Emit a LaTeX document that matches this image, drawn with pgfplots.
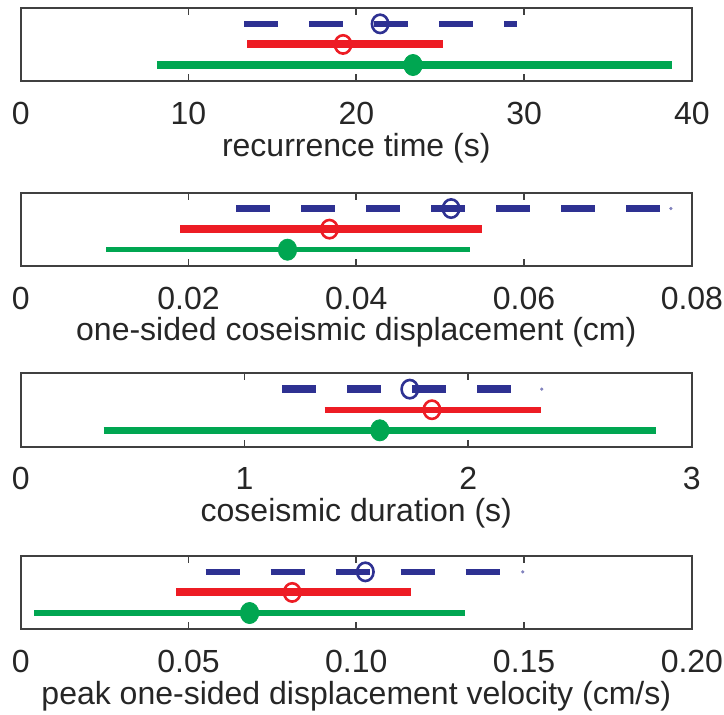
\documentclass[border=0pt]{standalone}
\usepackage{fontspec}
\setmainfont{Liberation Sans}
\usepackage{pgfplots}
\pgfplotsset{compat=1.18}
\definecolor{bluec}{RGB}{46,49,146}
\definecolor{redc}{RGB}{237,28,36}
\definecolor{greenc}{RGB}{0,166,81}
\definecolor{boxc}{RGB}{64,64,64}
\pgfplotsset{
  panel/.style={
    scale only axis, width=335.6pt, height=36.75pt, anchor=north west,
    ymin=0.2, ymax=3.77, ytick=\empty, tick align=inside, xtick pos=both,
    major tick length=3.5pt, clip=false, scaled x ticks=false,
    axis line style={draw=boxc, line width=1pt},
    every tick/.style={draw=boxc, line width=0.8pt},
    /pgf/number format/assume math mode=true,
    xticklabel style={font=\fontsize{16}{19}\selectfont, anchor=center, yshift=-16pt, text=black!85},
    xlabel style={font=\fontsize{16}{19}\selectfont, at={(axis description cs:0.5,0)}, anchor=center, yshift=-33.25pt, text=black!85},
  },
  bl/.style={color=bluec, line width=#1, dash pattern=on 17pt off 15.5pt},
  rl/.style={color=redc, line width=#1},
  gl/.style={color=greenc, line width=#1},
  bm/.style={only marks, mark=o, color=bluec, mark size=4.1pt, mark options={solid, line width=1.3pt, yscale=1.12}},
  rm/.style={only marks, mark=o, color=redc, mark size=4.1pt, mark options={solid, line width=1.3pt, yscale=1.12}},
  gm/.style={only marks, mark=*, color=greenc, mark size=4.6pt, mark options={yscale=1.15}},
  bd/.style={only marks, mark=*, color=bluec!60, mark size=0.6pt},
}
\begin{document}
\begin{tikzpicture}
\useasboundingbox (-10.35pt,4pt) rectangle (351.65pt,-353.5pt);
% panel 1
\begin{axis}[panel, at={(0,0)}, xmin=0, xmax=40, xtick={0,10,20,30,40}, xticklabels={0,10,20,30,40}, xlabel={recurrence time (s)}]
\addplot[bl=3.2pt] coordinates {(13.31,3) (29.57,3)};
\addplot[bm] coordinates {(21.42,3)};
\addplot[rl=4pt] coordinates {(13.50,2) (25.15,2)};
\addplot[rm] coordinates {(19.21,2)};
\addplot[gl=4pt] coordinates {(8.12,1) (38.81,1)};
\addplot[gm] coordinates {(23.38,1)};
\end{axis}
% panel 2
\begin{axis}[panel, at={(0,-92.35pt)}, xmin=0, xmax=0.08, xtick={0,0.02,0.04,0.06,0.08}, xticklabels={0,0.02,0.04,0.06,0.08}, xlabel={one-sided coseismic displacement (cm)}]
\addplot[bl=3.6pt] coordinates {(0.0257,3) (0.0775,3)};
\addplot[bd] coordinates {(0.0775,3)};
\addplot[bm] coordinates {(0.0513,3)};
\addplot[rl=3.8pt] coordinates {(0.0190,2) (0.0550,2)};
\addplot[rm] coordinates {(0.0368,2)};
\addplot[gl=2.7pt] coordinates {(0.0102,1) (0.0535,1)};
\addplot[gm] coordinates {(0.0318,1)};
\end{axis}
% panel 3
\begin{axis}[panel, at={(0,-182.65pt)}, xmin=0, xmax=3, xtick={0,1,2,3}, xticklabels={0,1,2,3}, xlabel={coseismic duration (s)}]
\addplot[bl=4pt] coordinates {(1.170,3) (2.329,3)};
\addplot[bd] coordinates {(2.329,3)};
\addplot[bm] coordinates {(1.739,3)};
\addplot[rl=2.8pt] coordinates {(1.358,2) (2.325,2)};
\addplot[rm] coordinates {(1.838,2)};
\addplot[gl=3.6pt] coordinates {(0.371,1) (2.839,1)};
\addplot[gm] coordinates {(1.605,1)};
\end{axis}
% panel 4
\begin{axis}[panel, at={(0,-274pt)}, xmin=0, xmax=0.2, xtick={0,0.05,0.10,0.15,0.20}, xticklabels={0,0.05,0.10,0.15,0.20}, xlabel={peak one-sided displacement velocity (cm/s)}]
\addplot[bl=3pt] coordinates {(0.0551,3) (0.1496,3)};
\addplot[bd] coordinates {(0.1496,3)};
\addplot[bm] coordinates {(0.1027,3)};
\addplot[rl=4pt] coordinates {(0.0464,2) (0.1162,2)};
\addplot[rm] coordinates {(0.0809,2)};
\addplot[gl=3.2pt] coordinates {(0.0040,1) (0.1324,1)};
\addplot[gm] coordinates {(0.0682,1)};
\end{axis}
\end{tikzpicture}
\end{document}
